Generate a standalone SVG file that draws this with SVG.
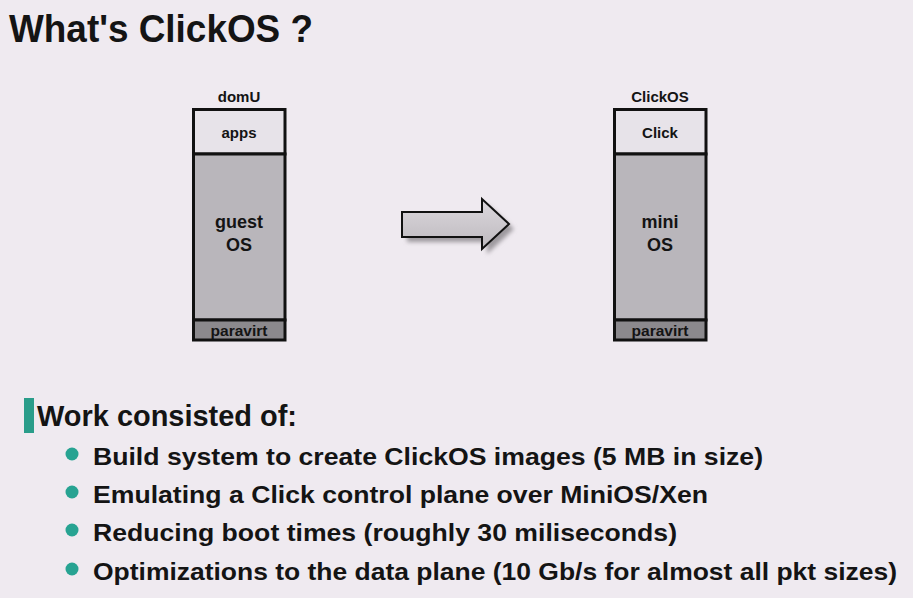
<svg xmlns="http://www.w3.org/2000/svg" width="913" height="598" viewBox="0 0 913 598">
<defs>
<style>
text{font-family:"Liberation Sans",Arial,sans-serif;fill:#141414;font-weight:bold}
.box{stroke:#111;stroke-width:3}
.top{fill:#e7e3e9}
.mid{fill:#b9b6bb}
.bot{fill:#8b898d}
.lbl{font-size:15px;text-anchor:middle}
.big{font-size:18px;text-anchor:middle}
.bul{font-size:24px}
.dot{fill:#27a392}
</style>
<linearGradient id="ag" x1="0" y1="0" x2="0" y2="1">
<stop offset="0" stop-color="#dcd8dd"/>
<stop offset="1" stop-color="#bdb9be"/>
</linearGradient>
<filter id="sh" x="-20%" y="-20%" width="140%" height="140%">
<feGaussianBlur stdDeviation="2"/>
</filter>
</defs>
<rect width="913" height="598" fill="#efeaf0"/>
<text x="9" y="42" font-size="38" textLength="304" lengthAdjust="spacingAndGlyphs">What's ClickOS ?</text>

<g id="domU">
<text class="lbl" x="239" y="102">domU</text>
<rect class="box top" x="193.5" y="109.5" width="91.5" height="44.5"/>
<rect class="box mid" x="193.5" y="154" width="91.5" height="166"/>
<rect class="box bot" x="193.5" y="320" width="91.5" height="20"/>
<text class="lbl" x="239" y="138">apps</text>
<text class="big" x="239" y="228">guest</text>
<text class="big" x="239" y="251">OS</text>
<text class="lbl" x="239" y="336" textLength="57" lengthAdjust="spacingAndGlyphs">paravirt</text>
</g>

<g id="clickos">
<text class="lbl" x="660" y="102">ClickOS</text>
<rect class="box top" x="614.5" y="109.5" width="91.5" height="44.5"/>
<rect class="box mid" x="614.5" y="154" width="91.5" height="166"/>
<rect class="box bot" x="614.5" y="320" width="91.5" height="20"/>
<text class="lbl" x="660" y="138">Click</text>
<text class="big" x="660" y="228">mini</text>
<text class="big" x="660" y="251">OS</text>
<text class="lbl" x="660" y="336" textLength="57" lengthAdjust="spacingAndGlyphs">paravirt</text>
</g>

<g id="connectors">
<polygon points="407,217 487,217 487,204 514,229 487,254 487,242 407,242" fill="#9e9a9f" filter="url(#sh)"/>
<polygon points="402,212 482,212 482,199 509,224 482,249 482,237 402,237" fill="url(#ag)" stroke="#111" stroke-width="2" stroke-linejoin="miter"/>
</g>

<g id="work">
<rect x="24" y="398" width="10" height="35" fill="#2a9d8a"/>
<text x="37" y="426" font-size="29" textLength="260" lengthAdjust="spacingAndGlyphs">Work consisted of:</text>
<circle class="dot" cx="72" cy="454" r="6.5"/>
<text class="bul" x="93" y="465" textLength="670" lengthAdjust="spacingAndGlyphs">Build system to create ClickOS images (5 MB in size)</text>
<circle class="dot" cx="72" cy="492" r="6.5"/>
<text class="bul" x="93" y="503" textLength="615" lengthAdjust="spacingAndGlyphs">Emulating a Click control plane over MiniOS/Xen</text>
<circle class="dot" cx="72" cy="530" r="6.5"/>
<text class="bul" x="93" y="541" textLength="584" lengthAdjust="spacingAndGlyphs">Reducing boot times (roughly 30 miliseconds)</text>
<circle class="dot" cx="72" cy="569" r="6.5"/>
<text class="bul" x="93" y="580" textLength="804" lengthAdjust="spacingAndGlyphs">Optimizations to the data plane (10 Gb/s for almost all pkt sizes)</text>
</g>
</svg>
